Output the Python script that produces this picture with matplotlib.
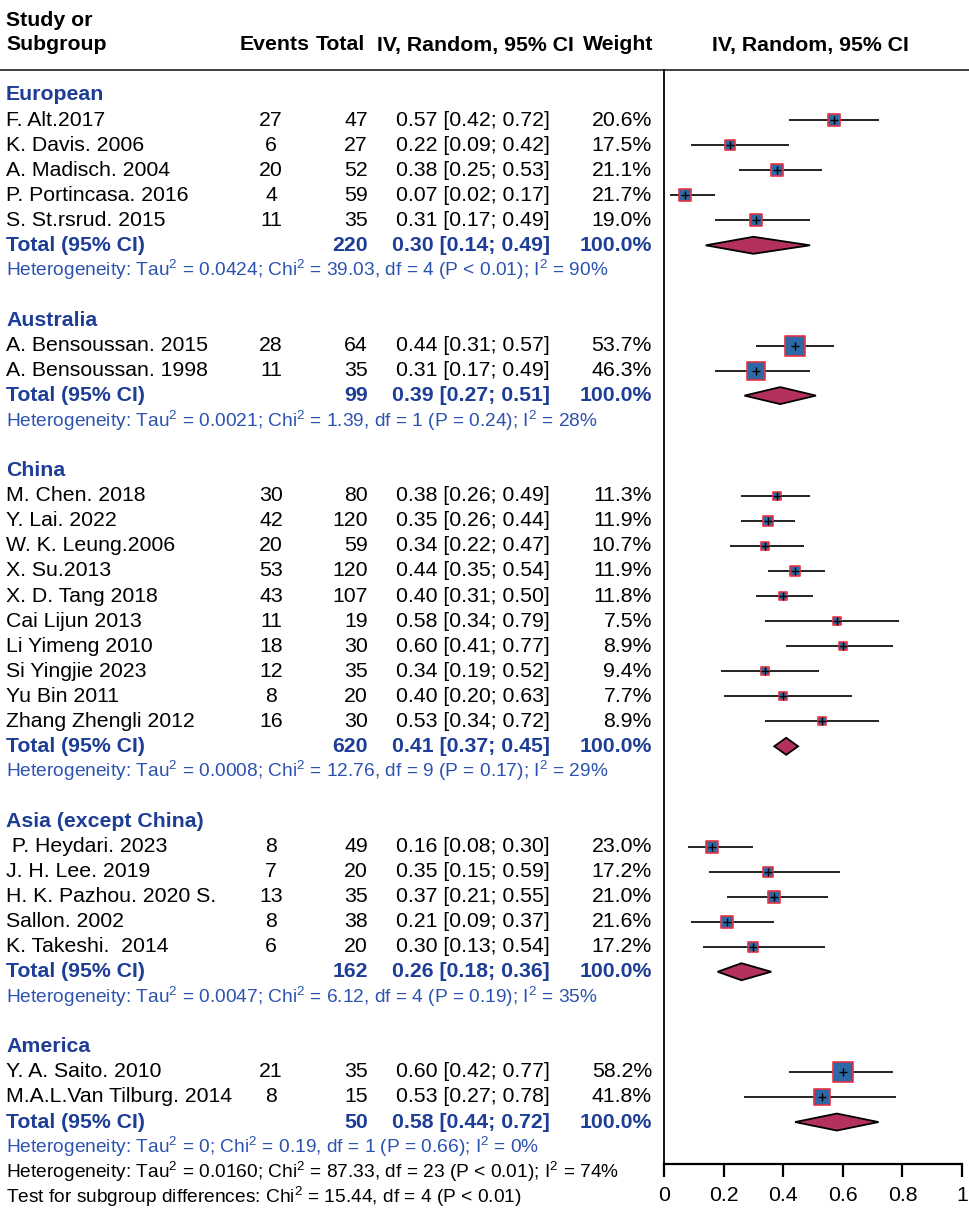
import matplotlib
matplotlib.use("Agg")
import matplotlib.pyplot as plt
from matplotlib.patches import Polygon

plt.rcParams['font.family'] = ['Liberation Sans', 'DejaVu Sans']
plt.rcParams['mathtext.fontset'] = 'custom'
plt.rcParams['mathtext.rm'] = 'Liberation Sans'
plt.rcParams['mathtext.it'] = 'Liberation Sans:italic'
plt.rcParams['mathtext.bf'] = 'Liberation Sans:bold'

# ---------------- data ----------------
groups = ["European", "Australia", "China", "Asia (except China)", "America"]

studies = [
    ["F. Alt.2017", "K. Davis. 2006", "A. Madisch. 2004", "P. Portincasa. 2016", "S. St.rsrud. 2015"],
    ["A. Bensoussan. 2015", "A. Bensoussan. 1998"],
    ["M. Chen. 2018", "Y. Lai. 2022", "W. K. Leung.2006", "X. Su.2013", "X. D. Tang 2018",
     "Cai Lijun 2013", "Li Yimeng 2010", "Si Yingjie 2023", "Yu Bin 2011", "Zhang Zhengli 2012"],
    [" P. Heydari. 2023", "J. H. Lee. 2019", "H. K. Pazhou. 2020 S.", "Sallon. 2002", "K. Takeshi.  2014"],
    ["Y. A. Saito. 2010", "M.A.L.Van Tilburg. 2014"],
]
events = [[27, 6, 20, 4, 11], [28, 11], [30, 42, 20, 53, 43, 11, 18, 12, 8, 16], [8, 7, 13, 8, 6], [21, 8]]
totals = [[47, 27, 52, 59, 35], [64, 35], [80, 120, 59, 120, 107, 19, 30, 35, 20, 30], [49, 20, 35, 38, 20], [35, 15]]
est = [[0.57, 0.22, 0.38, 0.07, 0.31], [0.44, 0.31],
       [0.38, 0.35, 0.34, 0.44, 0.40, 0.58, 0.60, 0.34, 0.40, 0.53],
       [0.16, 0.35, 0.37, 0.21, 0.30], [0.60, 0.53]]
lo = [[0.42, 0.09, 0.25, 0.02, 0.17], [0.31, 0.17],
      [0.26, 0.26, 0.22, 0.35, 0.31, 0.34, 0.41, 0.19, 0.20, 0.34],
      [0.08, 0.15, 0.21, 0.09, 0.13], [0.42, 0.27]]
hi = [[0.72, 0.42, 0.53, 0.17, 0.49], [0.57, 0.49],
      [0.49, 0.44, 0.47, 0.54, 0.50, 0.79, 0.77, 0.52, 0.63, 0.72],
      [0.30, 0.59, 0.55, 0.37, 0.54], [0.77, 0.78]]
weights = [[20.6, 17.5, 21.1, 21.7, 19.0], [53.7, 46.3],
           [11.3, 11.9, 10.7, 11.9, 11.8, 7.5, 8.9, 9.4, 7.7, 8.9],
           [23.0, 17.2, 21.0, 21.6, 17.2], [58.2, 41.8]]

group_total_n = [220, 99, 620, 162, 50]
group_est = [0.30, 0.39, 0.41, 0.26, 0.58]
group_lo = [0.14, 0.27, 0.37, 0.18, 0.44]
group_hi = [0.49, 0.51, 0.45, 0.36, 0.72]

het_tau2 = ["0.0424", "0.0021", "0.0008", "0.0047", "0"]
het_chi2 = ["39.03", "1.39", "12.76", "6.12", "0.19"]
het_df = [4, 1, 9, 4, 1]
het_p = ["P < 0.01", "P = 0.24", "P = 0.17", "P = 0.19", "P = 0.66"]
het_i2 = ["90%", "28%", "29%", "35%", "0%"]

overall_het = "Heterogeneity: Tau$^2$ = 0.0160; Chi$^2$ = 87.33, df = 23 (P < 0.01); I$^2$ = 74%"
subgroup_test = "Test for subgroup differences: Chi$^2$ = 15.44, df = 4 (P < 0.01)"

xticks = [0, 0.2, 0.4, 0.6, 0.8, 1]
xtick_labels = ["0", "0.2", "0.4", "0.6", "0.8", "1"]

# ---------------- styling ----------------
W, H = 969, 1220
HEAD_BLUE = "#1d3d96"
HET_BLUE = "#2c52b0"
SQ_FILL = "#2f68a6"
SQ_EDGE = "#e8343f"
DIA_FILL = "#b3305f"
FS = 15.3
FS_HET = 13.8

fig = plt.figure(figsize=(W / 100, H / 100), dpi=100)
bg = fig.add_axes([0, 0, 1, 1])
bg.set_xlim(0, W)
bg.set_ylim(H, 0)
bg.axis("off")

X0_PX, X1_PX = 664, 962
Y_TOP, Y_BOT = 70, 1164
fa = fig.add_axes([X0_PX / W, (H - Y_BOT) / H, (X1_PX - X0_PX) / W, (Y_BOT - Y_TOP) / H])
fa.set_xlim(0, 1)
fa.set_ylim(Y_BOT, Y_TOP)
fa.patch.set_alpha(0)
for s in ["top", "right"]:
    fa.spines[s].set_visible(False)
fa.spines["left"].set_linewidth(1.3)
fa.spines["bottom"].set_linewidth(1.6)
fa.set_yticks([])
fa.set_xticks(xticks)
fa.set_xticklabels(xtick_labels, fontsize=FS)
fa.tick_params(axis="x", length=9, width=1.6, pad=7)

def rowy(r):
    return 95 + 25.05 * r

# header
bg.text(6, 20, "Study or", fontsize=FS, fontweight="bold", va="center")
bg.text(6, 45, "Subgroup", fontsize=FS, fontweight="bold", va="center")
bg.text(275, 45, "Events", fontsize=FS, fontweight="bold", va="center", ha="center")
bg.text(365, 45, "Total", fontsize=FS, fontweight="bold", va="center", ha="right")
bg.text(574, 45, "IV, Random, 95% CI", fontsize=FS, fontweight="bold", va="center", ha="right")
bg.text(653, 45, "Weight", fontsize=FS, fontweight="bold", va="center", ha="right")
bg.text(810, 45, "IV, Random, 95% CI", fontsize=FS, fontweight="bold", va="center", ha="center")
bg.plot([0, W], [Y_TOP, Y_TOP], color="#333333", lw=1.3)

X_EV, X_TOT, X_CI, X_W = 271, 368, 550, 652

r = 0
for g in range(len(groups)):
    bg.text(6, rowy(r), groups[g], fontsize=FS, fontweight="bold", color=HEAD_BLUE, va="center")
    r += 1
    for i in range(len(studies[g])):
        y = rowy(r)
        bg.text(6, y, studies[g][i], fontsize=FS, va="center")
        bg.text(X_EV, y, str(events[g][i]), fontsize=FS, va="center", ha="center")
        bg.text(X_TOT, y, str(totals[g][i]), fontsize=FS, va="center", ha="right")
        bg.text(X_CI, y, f"{est[g][i]:.2f} [{lo[g][i]:.2f}; {hi[g][i]:.2f}]", fontsize=FS, va="center", ha="right")
        bg.text(X_W, y, f"{weights[g][i]:.1f}%", fontsize=FS, va="center", ha="right")
        fa.plot([lo[g][i], hi[g][i]], [y, y], color="#222222", lw=1.4, zorder=2, solid_capstyle="butt")
        side_pt = 2.62 * weights[g][i] ** 0.5 * 0.72
        fa.scatter([est[g][i]], [y], marker="s", s=side_pt ** 2, facecolor=SQ_FILL,
                   edgecolor=SQ_EDGE, linewidths=1.2, zorder=3)
        fa.scatter([est[g][i]], [y], marker="+", s=30, color="black", linewidths=1.0, zorder=4)
        r += 1
    y = rowy(r)
    bg.text(6, y, "Total (95% CI)", fontsize=FS, fontweight="bold", color=HEAD_BLUE, va="center")
    bg.text(X_TOT, y, str(group_total_n[g]), fontsize=FS, fontweight="bold", color=HEAD_BLUE, va="center", ha="right")
    bg.text(X_CI, y, f"{group_est[g]:.2f} [{group_lo[g]:.2f}; {group_hi[g]:.2f}]", fontsize=FS,
            fontweight="bold", color=HEAD_BLUE, va="center", ha="right")
    bg.text(X_W, y, "100.0%", fontsize=FS, fontweight="bold", color=HEAD_BLUE, va="center", ha="right")
    h = 8.5
    fa.add_patch(Polygon([(group_lo[g], y), (group_est[g], y - h), (group_hi[g], y), (group_est[g], y + h)],
                         closed=True, facecolor=DIA_FILL, edgecolor="black", lw=1.3, zorder=3))
    r += 1
    y = rowy(r)
    het = (f"Heterogeneity: Tau$^2$ = {het_tau2[g]}; Chi$^2$ = {het_chi2[g]}, df = {het_df[g]} "
           f"({het_p[g]}); I$^2$ = {het_i2[g]}")
    bg.text(6, y, het, fontsize=FS_HET, color=HET_BLUE, va="center")
    r += 1
    if g < len(groups) - 1:
        r += 1

bg.text(6, rowy(r), overall_het, fontsize=FS_HET, va="center")
r += 1
bg.text(6, rowy(r), subgroup_test, fontsize=FS_HET, va="center")

fig.savefig("out.png", dpi=100)
